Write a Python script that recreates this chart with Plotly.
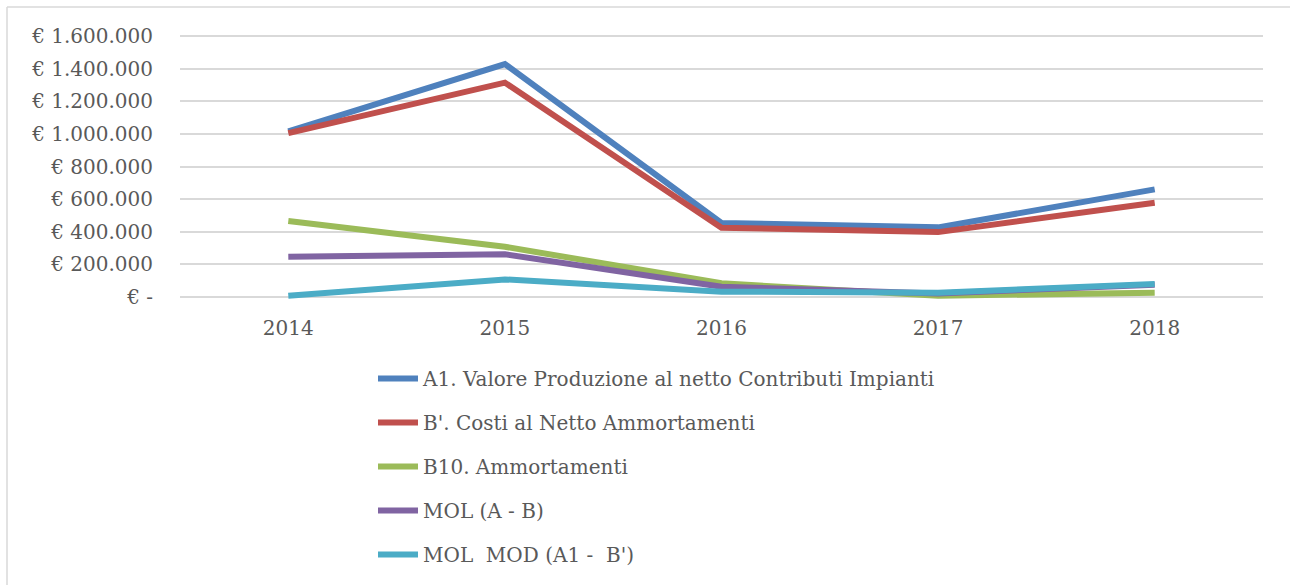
import plotly.graph_objects as go

years = ["2014", "2015", "2016", "2017", "2018"]
series_names = [
    "A1. Valore Produzione al netto Contributi Impianti",
    "B'. Costi al Netto Ammortamenti",
    "B10. Ammortamenti",
    "MOL (A - B)",
    "MOL  MOD (A1 -  B')",
]
a1_valore = [1015000, 1428000, 454000, 427000, 660000]
b_costi = [1005000, 1314000, 425000, 398000, 578000]
b10_ammortamenti = [466000, 308000, 84000, 8000, 27000]
mol = [247000, 262000, 63000, 22000, 76000]
mol_mod = [8000, 108000, 33000, 27000, 80000]
series_values = [a1_valore, b_costi, b10_ammortamenti, mol, mol_mod]
colors = ["#4F81BD", "#C0504D", "#9BBB59", "#8064A2", "#4BACC6"]

tick_vals = [0, 200000, 400000, 600000, 800000, 1000000, 1200000, 1400000, 1600000]
tick_text = ["€ -", "€ 200.000", "€ 400.000", "€ 600.000", "€ 800.000",
             "€ 1.000.000", "€ 1.200.000", "€ 1.400.000", "€ 1.600.000"]

W, H = 1290, 585
L, R, T, B = 180, 27, 34, 286
pw = W - L - R
ph = H - T - B
FONT = "DejaVu Serif"

fig = go.Figure()
for i, (name, vals, col) in enumerate(zip(series_names, series_values, colors)):
    fig.add_trace(go.Scatter(
        x=years, y=vals, name=name, mode="lines",
        line=dict(color=col, width=6),
        legendgroup=f"g{i}",
    ))

def px_x(x):
    return (x - L) / pw

def px_y(y):
    return 1 - (y - T) / ph

fig.update_layout(
    width=W, height=H,
    margin=dict(l=L, r=R, t=T, b=B, pad=0, autoexpand=False),
    paper_bgcolor="white", plot_bgcolor="white",
    font=dict(family=FONT, size=20, color="#595959"),
    xaxis=dict(
        type="category", showgrid=False, showline=False, zeroline=False,
        ticks="", tickfont=dict(size=20, color="#595959"),
        range=[-0.5, 4.5], ticklabelstandoff=15,
    ),
    yaxis=dict(
        range=[-12000, 1612000], tickvals=tick_vals, ticktext=tick_text,
        showgrid=True, gridcolor="#D9D9D9", gridwidth=1.5,
        zeroline=False, showline=False, ticks="",
        ticklabelstandoff=26,
        tickfont=dict(size=20, color="#595959"),
    ),
    showlegend=True,
    legend=dict(
        x=px_x(373), y=px_y(359), xanchor="left", yanchor="top",
        orientation="v", tracegroupgap=15,
        font=dict(size=20, color="#595959"),
        bgcolor="rgba(0,0,0,0)", itemwidth=40,
    ),
    shapes=[
        dict(type="line", xref="paper", yref="paper",
             x0=px_x(7), x1=px_x(1290), y0=px_y(7), y1=px_y(7),
             line=dict(color="#D9D9D9", width=1.5)),
        dict(type="line", xref="paper", yref="paper",
             x0=px_x(7), x1=px_x(7), y0=px_y(7), y1=px_y(585),
             line=dict(color="#D9D9D9", width=1.5)),
    ],
)

fig.write_html("out.html", config={"displayModeBar": False},
               post_script="document.body.style.margin='0';")
